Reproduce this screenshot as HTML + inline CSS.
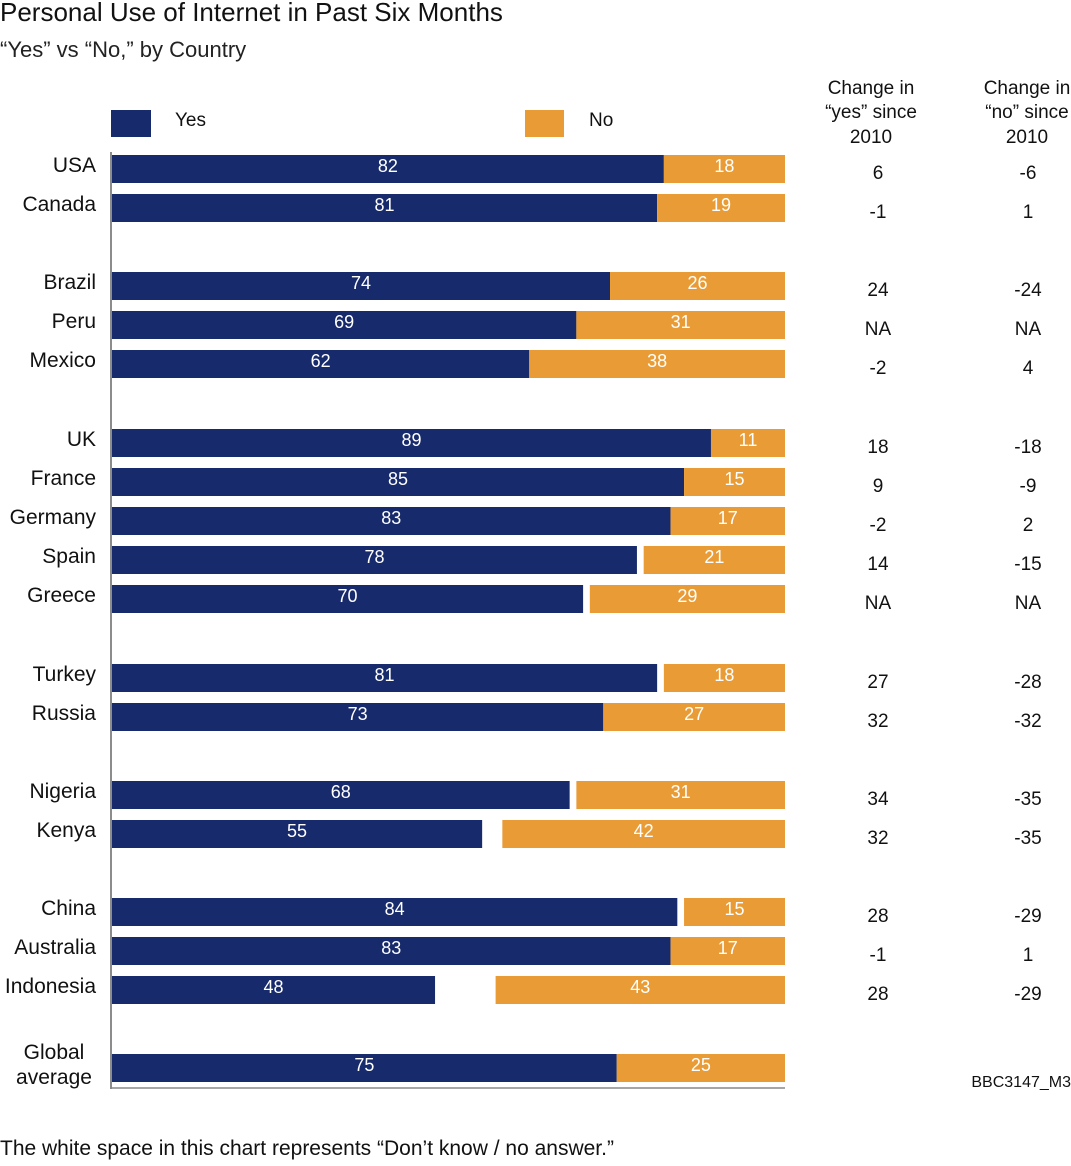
<!DOCTYPE html>
<html><head><meta charset="utf-8"><style>
body{margin:0;background:#fff;width:1071px;height:1161px;overflow:hidden;font-family:"Liberation Sans",sans-serif}
svg text{font-family:"Liberation Sans",sans-serif}
</style></head><body>
<svg id="c" width="1071" height="1161" viewBox="0 0 1071 1161">
<text x="0" y="21" font-size="26" fill="#111">Personal Use of Internet in Past Six Months</text>
<text x="0" y="57" font-size="22" fill="#222">“Yes” vs “No,” by Country</text>
<rect x="111" y="110" width="40" height="27" fill="#172a6b"/>
<text x="175" y="126" font-size="19" fill="#111">Yes</text>
<rect x="525" y="110" width="39" height="27" fill="#e99c35"/>
<text x="589" y="126" font-size="19" fill="#111">No</text>
<g font-size="19" fill="#111" text-anchor="middle">
<text x="871" y="94">Change in</text><text x="871" y="118">“yes” since</text><text x="871" y="143">2010</text></g>
<g font-size="19" fill="#111" text-anchor="middle">
<text x="1027" y="94">Change in</text><text x="1027" y="118">“no” since</text><text x="1027" y="143">2010</text></g>
<line x1="111" y1="152" x2="111" y2="1089" stroke="#666" stroke-width="1.5"/>
<line x1="111" y1="1088" x2="785" y2="1088" stroke="#888" stroke-width="1.5"/>
<g id="bars"></g>
<text x="1071" y="1087" font-size="16" fill="#111" text-anchor="end">BBC3147_M3</text>
<text x="0" y="1155" font-size="21" fill="#111">The white space in this chart represents “Don’t know / no answer.”</text>
</svg>
<script>
const countries=["USA","Canada","Brazil","Peru","Mexico","UK","France","Germany","Spain","Greece","Turkey","Russia","Nigeria","Kenya","China","Australia","Indonesia","Global average"];
const yesVals=[82,81,74,69,62,89,85,83,78,70,81,73,68,55,84,83,48,75];
const noVals=[18,19,26,31,38,11,15,17,21,29,18,27,31,42,15,17,43,25];
const changeYes=["6","-1","24","NA","-2","18","9","-2","14","NA","27","32","34","32","28","-1","28",""];
const changeNo=["-6","1","-24","NA","4","-18","-9","2","-15","NA","-28","-32","-35","-35","-29","1","-29",""];
const rowTops=[155,194,272,311,350,429,468,507,546,585,664,703,781,820,898,937,976,1054];
const NS="http://www.w3.org/2000/svg";
const g=document.getElementById('bars');
const x0=112,x1=785,bh=28;
const xs=v=>x0+v/100*(x1-x0);
function mk(t,a){const e=document.createElementNS(NS,t);for(const k in a)e.setAttribute(k,a[k]);g.appendChild(e);return e;}
countries.forEach((c,i)=>{
 const y=rowTops[i];
 const xy=xs(yesVals[i]), xn=xs(100-noVals[i]);
 const r1=mk('rect',{x:x0,y:y,width:xy-x0,height:bh,fill:'#172a6b'});
 
 
 const r2=mk('rect',{x:xn,y:y,width:x1-xn,height:bh,fill:'#e99c35'});
 
 
 const t1=mk('text',{x:(x0+xy)/2,y:y+17,'font-size':18,fill:'#fff','text-anchor':'middle'});t1.textContent=yesVals[i];
 
 
 const t2=mk('text',{x:(xn+x1)/2,y:y+17,'font-size':18,fill:'#fff','text-anchor':'middle'});t2.textContent=noVals[i];
 
 
 if(c==="Global average"){
  const l=mk('text',{x:54,y:y+5,'font-size':21,fill:'#111','text-anchor':'middle'});
  l.innerHTML='<tspan x="54" dy="0">Global</tspan><tspan x="54" dy="25">average</tspan>';
  
  
 } else {
  const l=mk('text',{x:96,y:y+17,'font-size':21,fill:'#111','text-anchor':'end'});l.textContent=c;
  
  
 }
 const cy=mk('text',{x:878,y:y+24,'font-size':19,fill:'#111','text-anchor':'middle'});cy.textContent=changeYes[i];
 
 
 const cn=mk('text',{x:1028,y:y+24,'font-size':19,fill:'#111','text-anchor':'middle'});cn.textContent=changeNo[i];
 
 
});
</script>
</body></html>
